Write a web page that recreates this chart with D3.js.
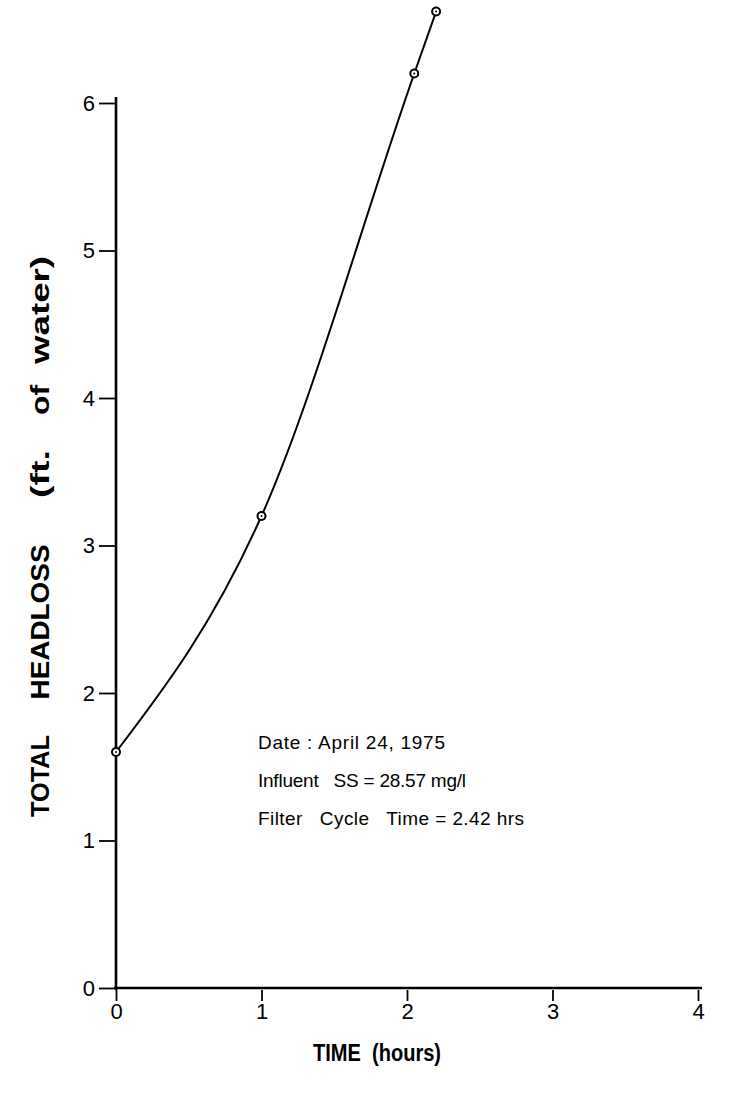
<!DOCTYPE html>
<html><head><meta charset="utf-8">
<script src="https://cdn.jsdelivr.net/npm/d3@7"></script>
<style>body{margin:0;background:#fff}svg{display:block}</style>
</head><body>
<svg id="chart" width="729" height="1101"></svg>
<script>
const timeHours = [0, 1.0, 2.05, 2.2];
const headloss = [1.6, 3.2, 6.2, 6.62];
const xTicks = [0, 1, 2, 3, 4];
const yTicks = [0, 1, 2, 3, 4, 5, 6];
const notes = ["Date : April 24, 1975", "Influent   SS = 28.57 mg/l", "Filter   Cycle   Time = 2.42 hrs"];
const yTitleWords = ["TOTAL", "HEADLOSS", "(ft.", "of", "water)"];

const svg = d3.select("#chart");
const x = d3.scaleLinear().domain([0, 4]).range([116, 698]);
const y = d3.scaleLinear().domain([0, 6]).range([988, 103]);
const font = "'Liberation Sans', Arial, sans-serif";

// axes
const xAxis = svg.append("g").attr("transform", "translate(0,988)")
  .call(d3.axisBottom(x).tickValues(xTicks).tickSize(13).tickPadding(2).tickFormat(d3.format("d")));
xAxis.select(".domain").attr("d", `M${x(0)-2},0H${x(4)+4}`);
const yAxis = svg.append("g").attr("transform", "translate(116,0)")
  .call(d3.axisLeft(y).tickValues(yTicks).tickSize(17).tickPadding(4).tickFormat(d3.format("d")));
yAxis.select(".domain").attr("d", `M0,${y(0)+2}V${y(6)-6}`);
[xAxis, yAxis].forEach(g => {
  g.select(".domain").attr("stroke", "#000").attr("stroke-width", 2.6);
  g.selectAll(".tick line").attr("stroke", "#000").attr("stroke-width", 1.8);
  g.selectAll(".tick text").attr("fill", "#000").attr("font-family", font).attr("font-size", 22);
});
xAxis.selectAll(".tick line").attr("y1", 2);

// curve
const line = d3.line().x((d, i) => x(timeHours[i])).y(d => y(d)).curve(d3.curveMonotoneX);
svg.append("path").datum(headloss).attr("d", line)
  .attr("fill", "none").attr("stroke", "#000").attr("stroke-width", 2);

// points
svg.selectAll("circle.pt").data(headloss).join("circle").attr("class", "pt")
  .attr("cx", (d, i) => x(timeHours[i])).attr("cy", d => y(d)).attr("r", 4)
  .attr("fill", "#fff").attr("stroke", "#000").attr("stroke-width", 2);
svg.selectAll("circle.dot").data(headloss).join("circle").attr("class", "dot")
  .attr("cx", (d, i) => x(timeHours[i])).attr("cy", d => y(d)).attr("r", 1).attr("fill", "#000");

// notes
const noteWidths = [187, 208, 266];
svg.selectAll("text.note").data(notes).join("text").attr("class", "note")
  .attr("x", 258).attr("y", (d, i) => 749 + i * 38)
  .attr("font-family", font).attr("font-size", 19)
  .attr("textLength", (d, i) => noteWidths[i]).attr("lengthAdjust", "spacing")
  .style("white-space", "pre").text(d => d);

// axis titles
svg.append("text").attr("x", 377).attr("y", 1061).attr("text-anchor", "middle")
  .attr("font-family", font).attr("font-size", 23).attr("font-weight", "bold")
  .attr("textLength", 128).attr("lengthAdjust", "spacingAndGlyphs")
  .style("white-space", "pre").text("TIME  (hours)");
const wordCenters = [776, 622, 474, 400, 310];
const wordLengths = [82, 155, 48, 30, 108];
svg.selectAll("text.ytitle").data(yTitleWords).join("text").attr("class", "ytitle")
  .attr("transform", (d, i) => `translate(49,${wordCenters[i]}) rotate(-90)`)
  .attr("text-anchor", "middle")
  .attr("font-family", font).attr("font-size", 26).attr("font-weight", "bold")
  .attr("textLength", (d, i) => wordLengths[i]).attr("lengthAdjust", "spacingAndGlyphs")
  .text(d => d);
</script>
</body></html>
